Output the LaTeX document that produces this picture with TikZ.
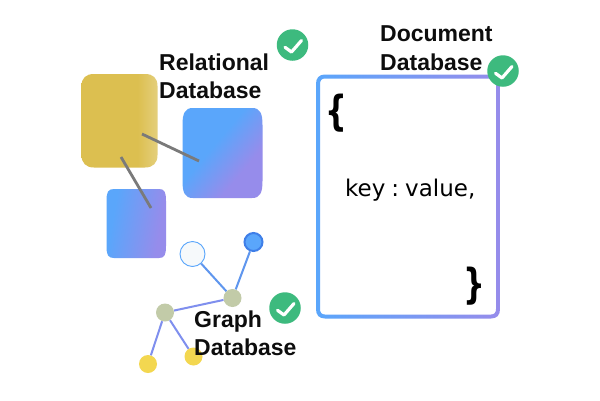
\documentclass[tikz,border=0pt]{standalone}
\usepackage{graphicx}
\usepackage{fontspec}
\setmainfont{Liberation Sans}
\newfontfamily\dejavu{DejaVu Sans}
\newfontfamily\dejavub{DejaVu Sans Bold}
\usetikzlibrary{calc}
\definecolor{gblue}{HTML}{5AA6FB}
\definecolor{gpurple}{HTML}{968CEB}
\definecolor{gold}{HTML}{DCBF50}
\definecolor{goldl}{HTML}{E4CF7C}
\definecolor{okgreen}{HTML}{3DBA7E}
\definecolor{sage}{HTML}{C2CBA8}
\definecolor{sun}{HTML}{F3D750}
\definecolor{linkb}{HTML}{5F96EE}
\definecolor{linkp}{HTML}{7F8FEE}
\definecolor{pale}{HTML}{F6F9FB}
\definecolor{deep}{HTML}{3F7FE8}
\pgfdeclarehorizontalshading{goldfade}{100bp}{color(0bp)=(gold); color(62bp)=(gold); color(75bp)=(goldl); color(100bp)=(goldl)}
\pgfdeclarehorizontalshading{bluediag}{100bp}{color(0bp)=(gblue); color(43bp)=(gblue); color(66bp)=(gpurple); color(100bp)=(gpurple)}
\pgfdeclarehorizontalshading{bluepurp}{100bp}{color(0bp)=(gblue); color(30bp)=(gblue); color(70bp)=(gpurple); color(100bp)=(gpurple)}
\tikzset{
 title/.style={anchor=north west,inner sep=0pt,align=left,font=\bfseries\fontsize{23}{28.5}\selectfont,text=black!95},
 okbadge/.style={circle,fill=okgreen,minimum size=31.5pt,inner sep=0pt},
 tick/.style={draw=white,line width=3.2pt,line join=round,line cap=round},
 graphdot/.style={circle,minimum size=18pt,inner sep=0pt},
 graylink/.style={draw=black!52,line width=2.8pt},
 bluelink/.style={draw=linkb,line width=2pt},
 purplelink/.style={draw=linkp,line width=2pt},
}
\begin{document}
\begin{tikzpicture}[x=1pt,y=-1pt]
\useasboundingbox (0,0) rectangle (600,400);
\fill[white] (0,0) rectangle (600,400);
% relational shapes
\shade[shading=goldfade] (81.5,86) .. controls (81.5,78) and (86,74) .. (94,74) -- (145,74) .. controls (153,74) and (157.5,78) .. (157.5,86) -- (157.5,155) .. controls (157.5,163) and (153,167.5) .. (145,167.5) -- (94,167.5) .. controls (86,167.5) and (81.5,163) .. (81.5,155) -- cycle;
\shade[shading=bluediag,shading angle=-40] (182.5,125) .. controls (182.5,113) and (185,108) .. (193,108) -- (252,108) .. controls (260,108) and (262.5,113) .. (262.5,125) -- (262.5,181) .. controls (262.5,193) and (260,198) .. (252,198) -- (193,198) .. controls (185,198) and (182.5,193) .. (182.5,181) -- cycle;
\shade[shading=bluepurp,shading angle=-10] (106.5,201) .. controls (106.5,192) and (108,189) .. (114,189) -- (159,189) .. controls (164.5,189) and (166,192) .. (166,201) -- (166,246) .. controls (166,255) and (164.5,258) .. (159,258) -- (114,258) .. controls (108,258) and (106.5,255) .. (106.5,246) -- cycle;
\coordinate (la) at (142,134);
\coordinate (lb) at (199,161);
\coordinate (lc) at (121,157);
\coordinate (ld) at (151,208);
\draw[graylink] (la) -- (lb);
\draw[graylink] (lc) -- (ld);
% graph
\node[graphdot,minimum size=25pt,draw=gblue,line width=.9pt,fill=pale] (gw) at (192.5,254) {};
\node[graphdot,minimum size=18pt,draw=deep,line width=2pt,fill=gblue] (gb) at (253.5,242) {};
\node[graphdot,fill=sage] (gc) at (232.5,298) {};
\node[graphdot,fill=sage] (gl) at (165,312.5) {};
\node[graphdot,fill=sun] (ya) at (148,364) {};
\node[graphdot,fill=sun] (yb) at (193.5,356.5) {};
\draw[bluelink] (gw) -- (gc);
\draw[bluelink] (gb) -- (gc);
\draw[purplelink] (gc) -- (gl);
\draw[purplelink] (gl) -- (ya);
\draw[purplelink] (gl) -- (yb);
% document box
\shade[left color=gblue,right color=gpurple,even odd rule]
 (316,84) .. controls (316,78) and (319,74.5) .. (325,74.5) -- (491,74.5) .. controls (497,74.5) and (500,78) .. (500,84) -- (500,309) .. controls (500,315) and (497,318.5) .. (491,318.5) -- (325,318.5) .. controls (319,318.5) and (316,315) .. (316,309) -- cycle
 (320,84) .. controls (320,80.5) and (321.5,78.5) .. (325,78.5) -- (491,78.5) .. controls (494.5,78.5) and (496,80.5) .. (496,84) -- (496,309) .. controls (496,312.5) and (494.5,314.5) .. (491,314.5) -- (325,314.5) .. controls (321.5,314.5) and (320,312.5) .. (320,309) -- cycle;
\node[anchor=base west,inner sep=0pt,font=\dejavu\fontsize{23}{26}\selectfont] (kv) at (345,196.7) {key\hspace{.26em}:\hspace{.26em}value,};
\node[anchor=base west,inner sep=0pt,font=\dejavub\fontsize{36}{40}\selectfont] (bo) at (325.5,125) {\scalebox{.85}[1.15]{\{}};
\node[anchor=base west,inner sep=0pt,font=\dejavub\fontsize{36}{40}\selectfont] (bc) at (463.5,298) {\scalebox{.85}[1.15]{\}}};
% labels
\node[title] (rt) at (159,53.5) {Relational\\Database};
\node[title] (gt) at (194,310.5) {Graph\\Database};
\node[title] (dt) at (380,25.5) {Document\\Database};
% badges
\node[okbadge] (ca) at (292.5,45) {};
\node[okbadge] (cb) at (285,308) {};
\node[okbadge] (cc) at (503,71) {};
\foreach \c in {ca,cb,cc}
 \draw[tick] ([shift={(-7.5,2.3)}]\c.center) -- ([shift={(-1,7)}]\c.center) -- ([shift={(9,-4.5)}]\c.center);
\end{tikzpicture}
\end{document}
